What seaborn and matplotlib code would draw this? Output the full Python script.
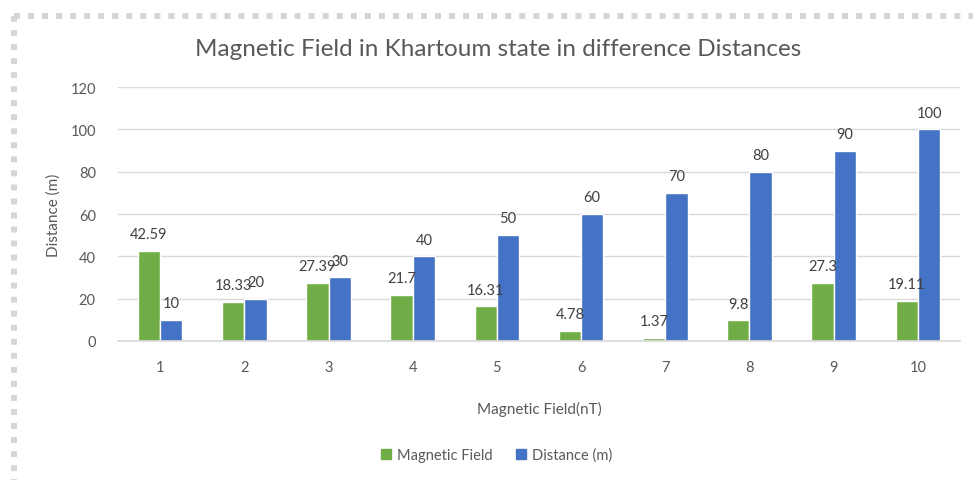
import pandas as pd
import matplotlib.pyplot as plt
import seaborn as sns
from matplotlib.lines import Line2D

# Data
categories = ['1', '2', '3', '4', '5', '6', '7', '8', '9', '10']
magnetic_field = [42.59, 18.33, 27.39, 21.7, 16.31, 4.78, 1.37, 9.8, 27.3, 19.11]
distance = [10, 20, 30, 40, 50, 60, 70, 80, 90, 100]
mf_labels = ['42.59', '18.33', '27.39', '21.7', '16.31', '4.78', '1.37', '9.8', '27.3', '19.11']
dist_labels = ['10', '20', '30', '40', '50', '60', '70', '80', '90', '100']
series = ['Magnetic Field', 'Distance (m)']

df = pd.DataFrame({
    'cat': categories * 2,
    'value': magnetic_field + distance,
    'series': [series[0]] * 10 + [series[1]] * 10,
})

sns.set_theme(style='white')
plt.rcParams['font.family'] = ['Lato', 'DejaVu Sans']
text_col = '#595959'

fig = plt.figure(figsize=(9.73, 4.81), dpi=100)
ax = fig.add_axes([0.1213, 0.289, 0.8653, 0.528])

sns.barplot(data=df, x='cat', y='value', hue='series', order=categories,
            hue_order=series, palette=['#70AD47', '#4472C4'], width=0.53,
            saturation=1, ax=ax, legend=False)

for cont, labs in zip(ax.containers, [mf_labels, dist_labels]):
    ax.bar_label(cont, labels=labs, padding=7, fontsize=10.5, color='#404040')

ax.set_ylim(0, 120)
ax.set_yticks(range(0, 121, 20))
ax.set_xlim(-0.5, 9.5)
ax.grid(axis='y', color='#D9D9D9', linewidth=1)
ax.set_axisbelow(True)
for s in ['top', 'right', 'left']:
    ax.spines[s].set_visible(False)
ax.spines['bottom'].set_color('#D9D9D9')
ax.tick_params(axis='both', length=0, labelsize=10.5, labelcolor=text_col)
ax.tick_params(axis='y', pad=16)
ax.tick_params(axis='x', pad=14)

ax.set_xlabel('Magnetic Field(nT)', fontsize=11, color=text_col, labelpad=19)
ax.set_ylabel('Distance (m)', fontsize=11, color=text_col, labelpad=7)

fig.text(0.512, 0.898, 'Magnetic Field in Khartoum state in difference Distances',
         ha='center', va='center', fontsize=17.5, color=text_col)

handles = [plt.Rectangle((0, 0), 1, 1, color=c) for c in ['#70AD47', '#4472C4']]
fig.legend(handles, series, loc='center', bbox_to_anchor=(0.51, 0.052), ncol=2,
           frameon=False, fontsize=10.5, handlelength=0.7, handleheight=0.7,
           columnspacing=1.6, handletextpad=0.4, labelcolor=text_col)

# dotted frame of the screenshot
fig.add_artist(Line2D([14 / 973, 14 / 973], [1 - 17 / 481, 0], transform=fig.transFigure,
                      color='#D6D6D6', linewidth=4.3, linestyle=(0, (1, 1.35)),
                      solid_capstyle='butt', dash_capstyle='butt'))
fig.add_artist(Line2D([14 / 973, 1], [1 - 17 / 481, 1 - 17 / 481], transform=fig.transFigure,
                      color='#D6D6D6', linewidth=4.3, linestyle=(0, (1, 1.35)),
                      solid_capstyle='butt', dash_capstyle='butt'))

fig.savefig('out.png', dpi=100)
